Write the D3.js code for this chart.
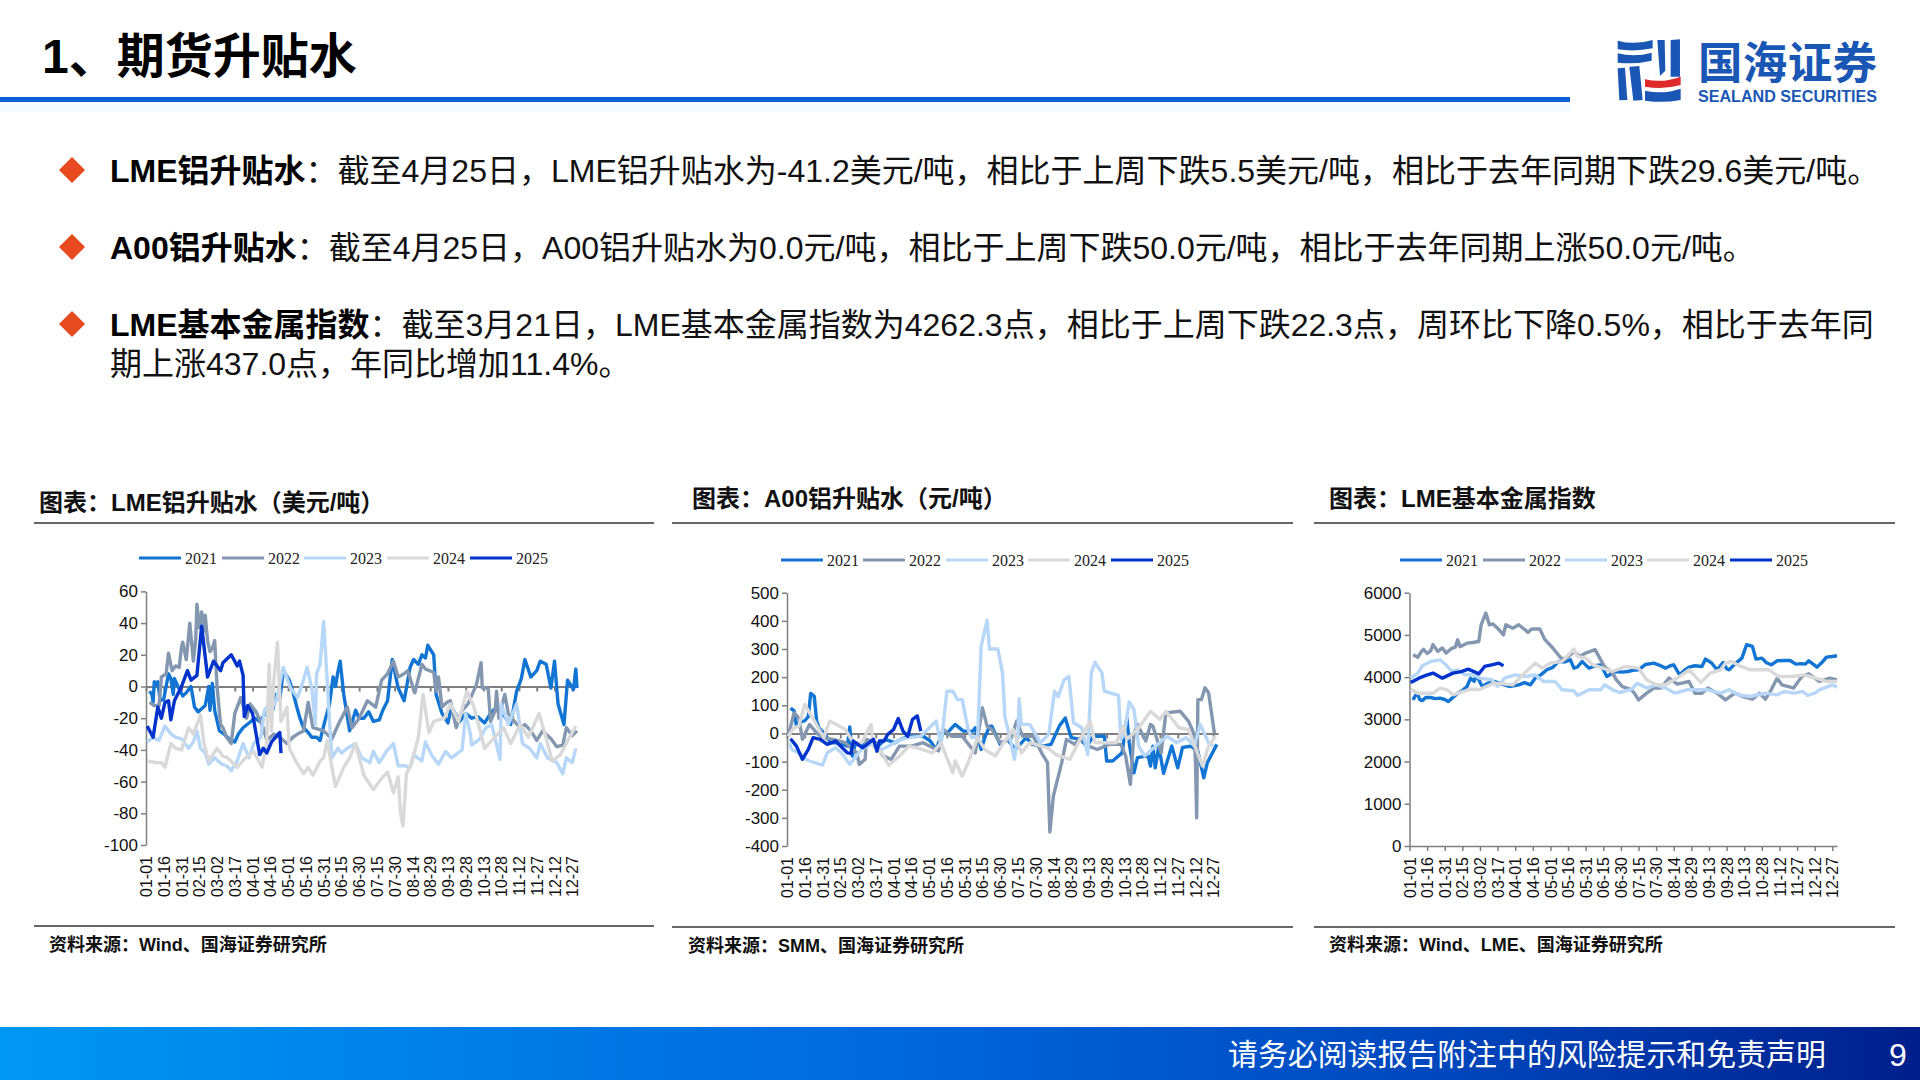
<!DOCTYPE html>
<html><head><meta charset="utf-8">
<style>
html,body{margin:0;padding:0;background:#fff;}
svg{display:block;}
text{font-family:"Liberation Sans","Noto Sans CJK SC",sans-serif;}
</style>
<script src="https://cdn.jsdelivr.net/npm/d3@7"></script>
</head><body><svg id="s" width="1920" height="1080"></svg>
<script>
const seriesNames=["2021","2022","2023","2024","2025"];
const seriesColors=["#1275d3","#8497b0","#b7d7f8","#d9d9d9","#0033cc"];
const xTickLabels=["01-01","01-16","01-31","02-15","03-02","03-17","04-01","04-16","05-01","05-16","05-31","06-15","06-30","07-15","07-30","08-14","08-29","09-13","09-28","10-13","10-28","11-12","11-27","12-12","12-27"];
const headline="1、期货升贴水";
const bullets=[
 {b:"LME铝升贴水",t:"：截至4月25日，LME铝升贴水为-41.2美元/吨，相比于上周下跌5.5美元/吨，相比于去年同期下跌29.6美元/吨。"},
 {b:"A00铝升贴水",t:"：截至4月25日，A00铝升贴水为0.0元/吨，相比于上周下跌50.0元/吨，相比于去年同期上涨50.0元/吨。"},
 {b:"LME基本金属指数",t:"：截至3月21日，LME基本金属指数为4262.3点，相比于上周下跌22.3点，周环比下降0.5%，相比于去年同"}];
const bulletCont="期上涨437.0点，年同比增加11.4%。";
const footerText="请务必阅读报告附注中的风险提示和免责声明";

// [day of year, value]
const lme2021=[[3,-3],[5,-5],[6,-10],[7,3],[9,1],[10,3],[12,-9],[15,-8],[17,0],[19,8],[21,5],[23,-5],[24,5],[27,0],[31,-6],[34,-4],[38,0],[41,-13],[44,-16],[47,-14],[50,-12],[53,0],[54,-15],[56,2],[58,-15],[62,-28],[66,-30],[70,-33],[75,-35],[78,-30],[82,-26],[87,-23],[92,-20],[96,-22],[102,-16],[107,-15],[110,-5],[113,-8],[116,10],[121,4],[124,-3],[127,-12],[130,-20],[133,-26],[137,-29],[140,-32],[144,-32],[147,-34],[151,-22],[155,-11],[158,6],[160,0],[162,9],[164,16],[167,-5],[172,-28],[177,-15],[180,-20],[184,-20],[188,-16],[192,-22],[197,-21],[200,-15],[204,-9],[208,17],[213,-1],[218,-9],[223,12],[226,17],[230,14],[233,20],[236,18],[238,26],[243,20],[245,-5],[250,-17],[255,-23],[258,-13],[261,-17],[265,-22],[270,-17],[275,-20],[280,-19],[286,-23],[291,-17],[296,-13],[302,-18],[308,-24],[313,-3],[317,5],[320,17],[325,6],[330,10],[333,16],[338,14],[342,-1],[345,16],[348,-11],[353,-24],[356,4],[361,-2],[363,11],[364,-1]];
const lme2022=[[3,-10],[7,-12],[11,-12],[13,6],[17,8],[19,21],[22,10],[25,13],[28,12],[30,25],[31,28],[34,17],[37,40],[40,16],[42,30],[43,52],[45,37],[47,47],[49,35],[50,45],[52,29],[54,22],[56,24],[58,29],[60,0],[63,-24],[65,-26],[68,-32],[72,-36],[75,-17],[80,-7],[85,-20],[88,-11],[93,-16],[99,-26],[102,-34],[108,-30],[113,-32],[119,-36],[124,-32],[128,-30],[133,-28],[137,-10],[141,-26],[146,-27],[150,-28],[157,-33],[163,-23],[170,-13],[174,-26],[180,-20],[187,-9],[194,-13],[199,4],[204,8],[209,16],[213,6],[218,8],[221,10],[227,-4],[233,14],[236,11],[243,9],[245,-3],[247,6],[250,-13],[254,-10],[257,-9],[262,-26],[267,-15],[272,-11],[276,-4],[279,1],[283,15],[284,-1],[289,-1],[291,-22],[295,-15],[296,-3],[298,-20],[303,-5],[306,-17],[311,-22],[316,-26],[320,-24],[325,-28],[330,-34],[335,-28],[342,-33],[347,-38],[352,-37],[355,-26],[360,-31],[364,-28]];
const lme2023=[[1,-35],[6,-32],[11,-34],[16,-25],[21,-30],[25,-32],[30,-33],[33,-36],[36,-39],[40,-35],[43,-28],[46,-39],[50,-42],[53,-49],[58,-45],[64,-49],[68,-50],[72,-53],[77,-47],[82,-36],[87,-45],[91,-36],[97,-32],[100,-15],[102,-13],[105,-15],[110,-9],[116,12],[122,-1],[128,-7],[133,4],[136,12],[140,-1],[143,-24],[144,8],[147,14],[150,41],[153,4],[155,-22],[157,-45],[162,-39],[165,-42],[170,-39],[177,-36],[182,-45],[189,-48],[192,-41],[197,-48],[203,-41],[209,-36],[213,-50],[218,-50],[223,-51],[226,-43],[233,-47],[236,-35],[241,-43],[247,-49],[253,-41],[258,-45],[267,-40],[270,-17],[274,-30],[275,-37],[282,-33],[287,-26],[292,-24],[299,-46],[300,-11],[306,-24],[313,-11],[318,-36],[324,-39],[330,-45],[333,-36],[339,-45],[347,-48],[352,-55],[355,-45],[360,-48],[363,-39]];
const lme2024=[[1,-47],[9,-48],[13,-48],[16,-51],[21,-36],[25,-39],[30,-40],[36,-26],[40,-30],[46,-18],[49,-36],[53,-47],[60,-39],[65,-44],[69,-45],[77,-51],[84,-45],[91,-41],[98,-51],[102,-35],[104,14],[106,-28],[108,4],[111,28],[114,-22],[119,-13],[121,-39],[128,-49],[133,-55],[137,-51],[141,-56],[147,-47],[150,-45],[153,-34],[157,-51],[160,-63],[167,-51],[172,-45],[177,-36],[184,-56],[192,-65],[199,-58],[204,-54],[209,-67],[213,-57],[215,-80],[217,-88],[220,-55],[224,-49],[230,-32],[234,-5],[239,-29],[243,-22],[252,-20],[257,-11],[264,-22],[271,-3],[277,-13],[286,-39],[292,-34],[302,-26],[308,-36],[316,-24],[323,-32],[332,-17],[337,-30],[343,-47],[350,-43],[357,-33],[363,-25]];
const lme2025=[[1,-25],[6,-32],[10,-13],[13,-20],[16,-10],[19,-9],[21,-21],[24,-9],[30,0],[35,10],[38,4],[43,7],[47,38],[52,6],[57,16],[63,10],[65,15],[72,20],[77,13],[79,16],[82,7],[83,-19],[86,-12],[90,-17],[96,-43],[99,-39],[102,-42],[106,-35],[113,-29],[114,-42]];

const a002021=[[3,90],[6,80],[8,26],[10,38],[15,45],[18,60],[20,142],[23,132],[25,45],[27,20],[31,2],[37,-33],[44,-33],[51,-45],[53,23],[55,-80],[58,-33],[63,-45],[70,-27],[77,-45],[83,-21],[91,-33],[96,-21],[103,-10],[115,-10],[121,-27],[126,-57],[132,14],[135,0],[142,32],[149,8],[157,8],[159,20],[164,-57],[167,-15],[171,25],[173,26],[180,-39],[186,-21],[193,-57],[202,-15],[207,-39],[216,-45],[223,-39],[230,26],[235,55],[240,-15],[248,-21],[253,-45],[259,-10],[268,-10],[270,-98],[275,-98],[283,-69],[287,55],[289,-33],[293,-140],[296,-86],[305,-80],[307,-116],[309,-45],[311,-122],[314,-45],[318,-142],[325,-45],[330,-122],[334,-50],[341,-45],[347,-63],[352,-158],[355,-104],[363,-39]];
const a002022=[[1,-10],[6,73],[10,55],[13,-21],[19,32],[25,2],[30,-15],[39,-21],[49,-33],[59,-69],[61,-110],[66,-92],[67,-21],[75,-33],[81,-80],[88,-92],[95,-45],[105,-45],[115,-33],[128,-62],[132,14],[139,-10],[148,-10],[159,-69],[165,91],[169,26],[173,14],[180,-33],[189,-21],[194,44],[199,-10],[208,-10],[215,-69],[220,-104],[222,-350],[225,-222],[232,-104],[236,-21],[243,-39],[248,-15],[255,-45],[262,-57],[272,-39],[282,-39],[286,-80],[290,-181],[293,0],[296,32],[303,-27],[307,32],[309,26],[316,-69],[320,73],[332,79],[339,44],[344,-4],[345,-104],[346,-300],[347,120],[350,120],[353,162],[356,145],[361,0]];
const a002023=[[2,-33],[4,-57],[10,-69],[16,-92],[19,-98],[30,-113],[34,-69],[41,-51],[46,-69],[53,-110],[63,-57],[73,-33],[80,-57],[86,-45],[96,-21],[103,-15],[113,-10],[126,44],[130,-45],[135,150],[140,150],[144,120],[148,120],[153,14],[156,-15],[161,-10],[164,310],[169,402],[171,300],[178,300],[182,215],[184,60],[188,-10],[192,-92],[195,-10],[196,123],[198,32],[205,32],[214,-33],[221,-4],[226,150],[229,130],[234,190],[238,203],[242,38],[249,20],[254,-75],[257,215],[260,253],[266,215],[268,150],[280,135],[282,-21],[285,2],[289,112],[293,85],[297,-45],[302,-80],[310,-50],[321,-10],[329,-33],[337,-15],[344,-45],[349,32],[356,-33],[360,-45]];
const a002024=[[1,-10],[6,20],[10,26],[15,103],[19,73],[24,38],[31,-15],[36,44],[44,26],[49,15],[56,-33],[63,-33],[71,32],[73,-45],[80,-69],[86,-113],[95,-80],[103,-45],[110,-51],[123,-69],[130,-33],[140,-140],[142,-98],[148,-152],[153,-104],[161,-15],[167,-57],[176,-80],[183,-33],[191,14],[198,-69],[205,-33],[220,-51],[227,-75],[239,-92],[246,-33],[256,44],[260,-33],[278,-33],[284,26],[287,-21],[296,14],[307,79],[315,50],[320,79],[331,20],[339,14],[351,-116],[356,-45],[362,-10]];
const a002025=[[3,-19],[8,-45],[13,-92],[18,-57],[22,-15],[28,-21],[34,-39],[41,-27],[51,-69],[54,-71],[56,-27],[64,-51],[73,-21],[76,-63],[78,-27],[82,-27],[85,-4],[90,14],[94,53],[98,8],[102,-10],[106,50],[110,62],[113,8]];

const base2021=[[3,3462],[5,3560],[7,3581],[9,3460],[11,3447],[14,3520],[18,3518],[22,3490],[26,3502],[30,3470],[33,3423],[37,3520],[41,3620],[45,3680],[49,3779],[52,3976],[55,3900],[57,4055],[60,3880],[62,3779],[67,3860],[72,3897],[78,3840],[85,3779],[93,3818],[98,3870],[103,3818],[107,3976],[112,4060],[117,4174],[122,4230],[127,4372],[132,4360],[137,4410],[140,4213],[143,4240],[147,4372],[150,4290],[153,4213],[158,4270],[163,4292],[168,4016],[172,4080],[176,4134],[181,4120],[186,4134],[190,4160],[195,4174],[201,4300],[208,4332],[213,4280],[218,4213],[222,4270],[225,4292],[230,4055],[234,4160],[238,4237],[243,4270],[249,4253],[252,4427],[257,4340],[262,4174],[267,4348],[270,4200],[272,4174],[278,4332],[283,4450],[287,4767],[292,4727],[295,4427],[300,4450],[304,4340],[308,4292],[313,4387],[319,4395],[324,4395],[329,4308],[334,4320],[337,4308],[340,4387],[347,4237],[352,4372],[355,4474],[360,4490],[364,4506]];
const base2022=[[3,4530],[7,4470],[10,4600],[12,4660],[15,4560],[18,4620],[20,4770],[24,4610],[28,4690],[31,4570],[36,4680],[39,4710],[41,4885],[43,4720],[49,4805],[54,4820],[59,4845],[61,5240],[65,5520],[68,5240],[71,5260],[75,5160],[80,5000],[82,5240],[88,5160],[93,5240],[101,5060],[104,5140],[111,5140],[115,4900],[122,4690],[129,4450],[133,4430],[137,4530],[140,4610],[145,4490],[150,4570],[158,4650],[166,4250],[173,4095],[176,3940],[181,3780],[189,3700],[192,3600],[195,3460],[202,3620],[208,3740],[214,3740],[221,3976],[228,3834],[238,3897],[243,3620],[249,3620],[254,3740],[262,3620],[269,3460],[277,3620],[284,3540],[292,3478],[298,3620],[303,3478],[308,3700],[313,3976],[317,3818],[322,3780],[327,3740],[334,4016],[340,4080],[349,3897],[358,3976],[364,3937]];
const base2023=[[1,3976],[7,4095],[11,4270],[18,4372],[26,4410],[31,4292],[36,4134],[41,4174],[47,4055],[54,4055],[60,3976],[70,3937],[75,3780],[81,3976],[90,4055],[99,4016],[107,4055],[114,3897],[124,3897],[130,3700],[140,3676],[143,3565],[153,3700],[163,3700],[166,3818],[173,3700],[179,3636],[189,3710],[194,3858],[202,3740],[210,3818],[218,3740],[226,3620],[236,3700],[254,3700],[265,3620],[272,3700],[280,3581],[290,3541],[303,3620],[313,3581],[319,3660],[327,3620],[335,3660],[339,3565],[345,3620],[349,3700],[360,3818],[364,3763]];
const base2024=[[1,3715],[7,3620],[14,3620],[20,3620],[26,3740],[32,3700],[37,3581],[46,3660],[52,3720],[59,3700],[72,3858],[80,3840],[88,3818],[98,4095],[107,4332],[113,4213],[120,4332],[130,4372],[140,4665],[143,4490],[150,4450],[156,4292],[173,4134],[184,4253],[195,4213],[202,3937],[210,3818],[218,3818],[230,4016],[238,4174],[248,3874],[256,4095],[265,4174],[269,4332],[274,4372],[282,4253],[290,4174],[306,4174],[314,4016],[326,4016],[336,4055],[346,3976],[355,3897],[364,3897]];
const base2025=[[1,3874],[8,3976],[14,4040],[20,4095],[28,3976],[37,4095],[44,4130],[50,4190],[59,4080],[64,4253],[70,4292],[76,4332],[80,4270]];

const legendX1=[139,222,304,387,470];
const legendX2=[781,863,946,1028,1111];
const legendX3=[1400,1483,1565,1647,1730];
const yTicks1=[-100,-80,-60,-40,-20,0,20,40,60];
const yTicks2=[-400,-300,-200,-100,0,100,200,300,400,500];
const yTicks3=[0,1000,2000,3000,4000,5000,6000];

const svg=d3.select("#s");
const defs=svg.append("defs");
const g1=defs.append("linearGradient").attr("id","fg");
[["0%","#0097f2"],["45%","#0069de"],["75%","#0047bd"],["100%","#001f8c"]].forEach(s=>g1.append("stop").attr("offset",s[0]).attr("stop-color",s[1]));

// header
svg.append("text").attr("x",42).attr("y",73).attr("font-size",48).attr("font-weight",700).attr("fill","#000").text(headline);
svg.append("rect").attr("x",0).attr("y",97).attr("width",1570).attr("height",5).attr("fill","#0a5fd6");
svg.append("rect").attr("x",0).attr("y",102).attr("width",1570).attr("height",10).attr("fill","#f5fbff");

// logo
const logo=svg.append("g").attr("transform","translate(1580,20) scale(0.3333)");
const logoBlue=["M113 62Q165 76 218 60L218 85Q165 96 113 88Z","M113 100Q165 112 215 98L215 122Q165 134 113 128Z","M113 145L135 143L142 240L118 241Z","M148 140L178 138L188 240L160 242Z","M232 60L254 60L256 152L240 168Z","M272 60L300 58L300 170L272 170Z","M195 212Q250 224 302 206L302 240Q250 250 195 242Z"];
logoBlue.forEach(d=>logo.append("path").attr("d",d).attr("fill","#1a57b4"));
logo.append("path").attr("d","M195 178Q250 190 302 170L302 195Q250 210 195 200Z").attr("fill","#df2a2c");
svg.append("text").attr("x",1698).attr("y",79).attr("font-size",44.5).attr("font-weight",700).attr("fill","#1a57b4").attr("textLength",179).text("国海证券");
svg.append("text").attr("x",1698).attr("y",102).attr("font-size",16.5).attr("font-weight",700).attr("fill","#1a57b4").attr("textLength",179).attr("lengthAdjust","spacingAndGlyphs").text("SEALAND SECURITIES");

// bullets
const rowY=[170,247,324];
bullets.forEach((b,i)=>{
  const y=rowY[i];
  svg.append("path").attr("d",`M${72} ${y-13}L${85} ${y}L${72} ${y+13}L${59} ${y}Z`).attr("fill","#e84a1f");
  const t=svg.append("text").attr("x",110).attr("y",y+12).attr("font-size",32).attr("fill","#111");
  t.append("tspan").attr("font-weight",700).attr("fill","#000").text(b.b);
  t.append("tspan").text(b.t);
});
svg.append("text").attr("x",110).attr("y",375).attr("font-size",32).attr("fill","#111").text(bulletCont);

// charts
function chart(c){
  const x=d3.scaleLinear().domain([0,364]).range([c.x0,c.x1]);
  const y=d3.scaleLinear().domain(c.domain).range([c.y1,c.y0]);
  const g=svg.append("g");
  g.append("text").attr("x",c.titleX).attr("y",c.titleY+9).attr("font-size",24).attr("font-weight",700).attr("fill","#111").text(c.title);
  [c.ruleTop,c.ruleBottom].forEach(ry=>g.append("line").attr("x1",c.ruleX0).attr("x2",c.ruleX1).attr("y1",ry).attr("y2",ry).attr("stroke","#333").attr("stroke-width",1.5));
  g.append("text").attr("x",c.srcX).attr("y",c.srcY+7).attr("font-size",18).attr("font-weight",700).attr("fill","#111").text(c.source);
  // legend
  seriesNames.forEach((n,i)=>{
    g.append("line").attr("x1",c.legendX[i]).attr("x2",c.legendX[i]+42).attr("y1",c.legendY).attr("y2",c.legendY).attr("stroke",seriesColors[i]).attr("stroke-width",3);
    g.append("text").attr("x",c.legendX[i]+46).attr("y",c.legendY+5.5).attr("font-size",16).attr("style",'font-family:"Liberation Serif",serif').attr("fill","#222").text(n);
  });
  // axes
  const tickDays=xTickLabels.map((_,i)=>i*15);
  const ax=d3.axisBottom(x).tickValues(tickDays).tickSize(5).tickSizeOuter(0).tickFormat("");
  const axG=g.append("g").attr("transform",`translate(0,${y(0)})`).call(ax);
  axG.selectAll("line,path").attr("stroke","#7f7f7f").attr("stroke-width",c.axisW);
  const lab=d3.axisBottom(x).tickValues(tickDays).tickSize(0).tickFormat((d,i)=>xTickLabels[i]);
  const labG=g.append("g").attr("transform",`translate(0,${c.y1})`).call(lab);
  labG.select(".domain").remove();
  labG.selectAll("text").attr("font-size",16).attr("fill","#111").attr("transform","rotate(-90)").attr("x",-11).attr("y",0).attr("dy","0.35em").attr("text-anchor","end").style("font-family",'"Liberation Sans",sans-serif');
  const ya=d3.axisLeft(y).tickValues(c.yTicks).tickSize(5).tickSizeOuter(0).tickFormat(d=>String(d));
  const yG=g.append("g").attr("transform",`translate(${c.x0},0)`).call(ya);
  yG.selectAll("line,path").attr("stroke","#7f7f7f").attr("stroke-width",1.5);
  yG.selectAll("text").attr("font-size",17).attr("fill","#111").attr("x",-8).style("font-family",'"Liberation Sans",sans-serif');
  // lines
  const ln=d3.line().x(d=>x(d[0])).y(d=>y(d[1]));
  c.series.forEach((s,i)=>g.append("path").datum(s).attr("d",ln).attr("fill","none").attr("stroke",seriesColors[i]).attr("stroke-width",3.4).attr("stroke-linejoin","round"));
}
chart({x0:146,x1:577,y0:591.4,y1:845,domain:[-100,60],yTicks:yTicks1,axisW:2,series:[lme2021,lme2022,lme2023,lme2024,lme2025],
  title:"图表：LME铝升贴水（美元/吨）",titleX:39,titleY:502,ruleX0:34,ruleX1:654,ruleTop:523,ruleBottom:926,source:"资料来源：Wind、国海证券研究所",srcX:49,srcY:944,legendX:legendX1,legendY:558});
chart({x0:787,x1:1218,y0:592.7,y1:846,domain:[-400,500],yTicks:yTicks2,axisW:2,series:[a002021,a002022,a002023,a002024,a002025],
  title:"图表：A00铝升贴水（元/吨）",titleX:692,titleY:498,ruleX0:672,ruleX1:1293,ruleTop:523,ruleBottom:927,source:"资料来源：SMM、国海证券研究所",srcX:688,srcY:945,legendX:legendX2,legendY:560});
chart({x0:1409.5,x1:1837,y0:592.7,y1:846,domain:[0,6000],yTicks:yTicks3,axisW:1.5,series:[base2021,base2022,base2023,base2024,base2025],
  title:"图表：LME基本金属指数",titleX:1329,titleY:498,ruleX0:1314,ruleX1:1895,ruleTop:523,ruleBottom:927,source:"资料来源：Wind、LME、国海证券研究所",srcX:1329,srcY:944,legendX:legendX3,legendY:560});

// footer
svg.append("rect").attr("x",0).attr("y",1027).attr("width",1920).attr("height",53).attr("fill","url(#fg)");
svg.append("text").attr("x",1228).attr("y",1065).attr("font-size",29.9).attr("fill","#fff").text(footerText);
svg.append("text").attr("x",1889).attr("y",1066).attr("font-size",32).attr("fill","#fff").text("9");
</script></body></html>
